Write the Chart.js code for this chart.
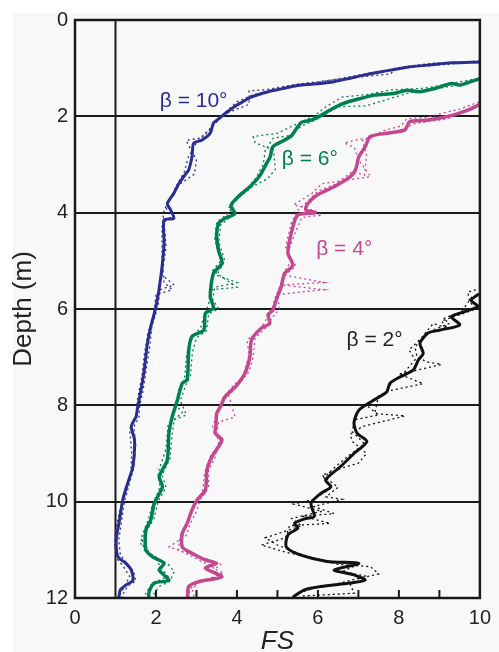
<!DOCTYPE html>
<html>
<head>
<meta charset="utf-8">
<script src="https://cdn.jsdelivr.net/npm/chart.js@4.4.1/dist/chart.umd.min.js"></script>
<style>
html,body{margin:0;padding:0;background:#fff;}
canvas{display:block;}
</style>
</head>
<body>
<canvas id="c" width="499" height="652"></canvas>
<script>
// ---- data: [FS, depth] ----
const fsTicks = [0, 2, 4, 6, 8, 10];
const depthTicks = [0, 2, 4, 6, 8, 10, 12];
const labels = ['β = 10°', 'β = 6°', 'β = 4°', 'β = 2°'];
const labelAnchors = [[2.93, 1.69], [5.8, 2.89], [6.65, 4.75], [7.4, 6.64]];

const beta10 = [[10.0,0.87],[9.3,0.89],[8.8,0.93],[8.2,0.98],[7.6,1.07],[7.1,1.15],[6.8,1.21],[6.4,1.28],[5.9,1.33],[5.5,1.36],[5.1,1.43],[4.77,1.49],[4.35,1.6],[4.1,1.72],[3.9,1.82],[3.71,1.94],[3.55,2.05],[3.42,2.14],[3.34,2.35],[3.14,2.49],[2.93,2.56],[2.89,2.84],[2.81,3.11],[2.75,3.18],[2.57,3.39],[2.44,3.6],[2.28,3.81],[2.36,3.94],[2.44,4.12],[2.2,4.15],[2.2,4.64],[2.12,5.33],[2.0,5.95],[1.87,6.37],[1.79,6.71],[1.71,7.27],[1.63,7.68],[1.55,8.03],[1.51,8.23],[1.39,8.44],[1.47,8.72],[1.43,9.27],[1.30,9.62],[1.18,9.96],[1.10,10.38],[1.02,10.79],[1.06,11.14],[1.26,11.28],[1.39,11.42],[1.43,11.63],[1.26,11.73],[1.12,11.83],[1.08,12.0]];
const beta10DotA = [[10,0.85],[8.8,0.9],[7.9,1.0],[7.8,1.12],[6.8,1.2],[5.5,1.33],[4.7,1.45],[4.3,1.47],[4.3,1.75],[3.7,1.95],[3.4,2.2],[3.1,2.45],[2.75,2.5],[2.8,2.6],[3.0,2.9],[2.95,3.2],[2.6,3.4],[2.4,3.65],[2.25,3.9],[2.35,4.1],[2.2,4.2],[2.25,4.7],[2.15,5.3],[2.45,5.5],[2.1,5.6],[2.05,5.95],[1.9,6.35],[1.85,6.75],[1.75,7.3],[1.68,7.7],[1.6,8.0],[1.58,8.25],[1.45,8.45],[1.5,8.8],[1.45,9.3],[1.35,9.6],[1.22,10.0],[1.15,10.4],[1.08,10.8],[1.12,11.1],[1.3,11.3],[1.45,11.45],[1.5,11.65],[1.3,11.75],[1.2,11.9],[1.15,12]];
const beta10DotB = [[9.5,0.9],[8,1.0],[7.3,1.1],[6.3,1.25],[5.2,1.42],[4.4,1.55],[4.0,1.7],[3.6,2.0],[3.3,2.3],[3.0,2.55],[2.8,2.85],[2.7,3.15],[2.5,3.45],[2.35,3.7],[2.2,3.95],[2.15,4.3],[2.15,4.9],[2.2,5.45],[2.4,5.6],[2.0,5.7],[1.95,6.1],[1.8,6.5],[1.72,6.9],[1.65,7.4],[1.55,7.85],[1.5,8.2],[1.35,8.5],[1.4,9.0],[1.38,9.4],[1.25,9.8],[1.1,10.2],[1.0,10.6],[0.98,10.9],[1.05,11.2],[1.2,11.35],[1.35,11.55],[1.2,11.8],[1.05,12]];

const beta6 = [[10.0,1.22],[9.7,1.30],[9.5,1.35],[9.3,1.32],[8.9,1.42],[8.5,1.49],[8.2,1.46],[7.9,1.52],[7.4,1.56],[7.0,1.64],[6.6,1.74],[6.3,1.87],[6.1,1.97],[5.83,2.08],[5.6,2.12],[5.45,2.28],[5.35,2.40],[5.18,2.49],[4.89,2.63],[4.82,2.84],[4.73,2.98],[4.55,3.25],[4.32,3.46],[4.03,3.67],[3.85,3.85],[3.95,4.02],[3.7,4.12],[3.55,4.22],[3.5,4.5],[3.55,4.8],[3.63,5.05],[3.42,5.26],[3.34,5.74],[3.42,5.98],[3.22,6.09],[3.18,6.44],[2.89,6.57],[2.81,6.85],[2.77,7.47],[2.65,7.54],[2.53,7.89],[2.40,8.24],[2.32,8.58],[2.28,9.13],[2.08,9.48],[2.16,9.69],[1.96,10.03],[1.87,10.38],[1.75,10.59],[1.75,11.0],[1.91,11.14],[2.20,11.28],[2.08,11.42],[2.32,11.63],[1.96,11.69],[1.83,11.87],[1.82,12.0]];
const beta6DotA = [[10.05,1.2],[9.4,1.3],[8.6,1.42],[7.8,1.45],[7.2,1.55],[6.6,1.6],[6.2,1.8],[5.9,2.0],[5.5,2.15],[5.0,2.35],[4.4,2.42],[4.45,2.55],[4.9,2.7],[4.95,3.1],[4.75,3.3],[4.4,3.45],[4.1,3.65],[3.8,3.9],[3.9,4.05],[3.6,4.25],[3.55,4.6],[3.7,5.0],[3.5,5.3],[4.0,5.45],[3.45,5.55],[3.4,5.8],[3.55,6.0],[3.3,6.1],[3.25,6.45],[3.0,6.6],[2.9,6.9],[2.85,7.4],[2.75,7.55],[2.6,7.9],[2.75,8.2],[2.45,8.3],[2.4,8.6],[2.35,9.1],[2.15,9.45],[2.25,9.7],[2.05,10.0],[1.95,10.35],[1.6,10.85],[1.9,11.1],[2.3,11.3],[2.45,11.45],[2.35,11.65],[2.1,11.75],[1.95,11.9],[2.0,12]];
const beta6DotB = [[9.7,1.33],[9.1,1.4],[8.3,1.5],[7.2,1.78],[6.5,1.8],[6.0,2.05],[5.6,2.2],[5.3,2.4],[4.9,2.45],[4.7,2.7],[4.65,3.0],[4.45,3.3],[4.2,3.55],[3.95,3.75],[3.8,4.0],[3.5,4.2],[3.45,4.55],[3.6,5.0],[3.4,5.2],[4.0,5.55],[3.35,5.6],[3.3,5.9],[3.2,6.1],[3.1,6.4],[2.85,6.6],[2.75,7.0],[2.7,7.5],[2.55,7.7],[2.5,8.0],[2.65,8.15],[2.3,8.4],[2.25,8.9],[2.05,9.4],[2.1,9.7],[1.9,10.1],[1.8,10.4],[1.65,10.7],[1.7,11.0],[2.0,11.2],[2.15,11.4],[2.3,11.55],[1.9,11.7],[1.75,11.9],[1.7,12]];

const beta4 = [[9.98,1.76],[9.70,1.87],[9.17,2.01],[8.68,2.08],[8.27,2.11],[8.15,2.28],[7.70,2.35],[7.29,2.42],[7.17,2.63],[7.01,2.84],[6.93,3.11],[6.80,3.25],[6.40,3.46],[5.99,3.63],[5.75,3.81],[5.70,3.94],[5.93,4.0],[5.50,4.05],[5.34,4.43],[5.26,4.84],[5.38,5.09],[5.18,5.26],[5.09,5.54],[4.97,5.81],[4.89,6.02],[4.77,6.12],[4.81,6.30],[4.60,6.40],[4.36,6.64],[4.32,6.99],[4.20,7.33],[4.0,7.58],[3.71,7.82],[3.59,8.03],[3.50,8.17],[3.48,8.44],[3.46,8.58],[3.63,8.72],[3.38,9.07],[3.26,9.34],[3.22,9.76],[3.02,9.96],[2.89,10.17],[2.77,10.45],[2.65,10.66],[2.65,10.94],[2.89,11.07],[3.22,11.21],[3.50,11.28],[3.22,11.38],[3.63,11.56],[3.06,11.66],[2.81,11.76],[2.78,12.0]];
const beta4DotA = [[9.98,1.7],[9.5,1.85],[9.0,1.95],[8.7,2.02],[8.2,2.05],[8.05,2.2],[7.6,2.3],[7.3,2.45],[7.0,2.48],[6.65,2.55],[6.9,2.65],[7.0,2.9],[7.3,3.25],[6.9,3.3],[6.5,3.35],[6.1,3.4],[5.85,3.6],[5.4,3.84],[5.9,3.95],[6.1,4.05],[5.6,4.1],[5.4,4.5],[5.25,4.85],[5.45,5.1],[5.2,5.3],[6.15,5.45],[5.1,5.5],[6.15,5.6],[5.0,5.7],[5.05,6.0],[4.9,6.15],[4.7,6.4],[4.45,6.6],[4.4,7.0],[4.3,7.3],[4.05,7.55],[3.8,7.8],[3.95,8.24],[3.55,8.35],[3.5,8.6],[3.55,8.8],[3.45,9.1],[3.3,9.35],[3.3,9.7],[3.1,9.95],[3.0,10.2],[2.85,10.45],[2.75,10.7],[2.32,10.94],[2.9,11.1],[3.3,11.2],[3.6,11.3],[3.45,11.4],[3.67,11.48],[3.3,11.6],[3.0,11.7],[2.9,11.85],[2.95,12]];
const beta4DotB = [[9.6,1.9],[9.2,2.05],[8.4,2.15],[8.0,2.3],[7.5,2.38],[7.1,2.5],[7.2,2.8],[7.15,3.22],[6.85,3.15],[6.4,3.42],[6.0,3.55],[5.7,3.8],[5.5,3.95],[5.35,4.2],[5.2,4.7],[5.35,5.0],[5.15,5.25],[5.1,5.45],[4.95,5.75],[4.85,6.05],[4.55,6.45],[4.25,6.65],[4.3,6.95],[4.15,7.4],[3.9,7.6],[3.65,7.85],[3.55,8.1],[3.4,8.45],[3.6,8.75],[3.35,9.05],[3.2,9.4],[3.15,9.8],[2.95,10.1],[2.8,10.4],[2.6,10.7],[2.55,11.0],[2.8,11.1],[3.15,11.25],[3.4,11.35],[3.55,11.55],[3.1,11.65],[2.85,11.8],[2.8,12]];

const beta2 = [[9.95,5.70],[9.78,5.82],[9.95,5.95],[9.49,6.09],[9.29,6.16],[9.5,6.33],[9.0,6.44],[8.72,6.50],[8.52,6.71],[8.60,6.92],[8.48,7.06],[8.35,7.27],[8.03,7.41],[7.78,7.54],[7.70,7.72],[7.38,7.89],[7.01,8.10],[6.89,8.37],[6.97,8.58],[7.21,8.75],[6.89,9.0],[6.56,9.27],[6.19,9.55],[6.32,9.69],[6.07,9.83],[5.83,10.03],[5.91,10.31],[5.70,10.35],[5.42,10.45],[5.50,10.55],[5.26,10.69],[5.22,10.94],[5.58,11.11],[6.23,11.24],[7.01,11.28],[6.40,11.42],[6.89,11.52],[7.17,11.63],[6.80,11.69],[6.07,11.76],[5.67,11.83],[5.40,11.97]];
const beta2DotA = [[9.9,5.6],[9.7,5.65],[9.75,5.85],[9.9,6.0],[9.4,6.15],[9.05,6.25],[9.2,6.4],[8.85,6.3],[8.6,6.55],[8.4,6.8],[8.45,7.0],[8.7,7.1],[9.05,7.15],[8.3,7.3],[8.0,7.35],[8.6,7.55],[7.75,7.7],[7.5,7.8],[7.4,8.17],[8.15,8.22],[7.1,8.44],[6.8,8.6],[6.85,8.75],[7.2,9.0],[7.0,9.2],[6.6,9.3],[6.1,9.45],[6.5,9.7],[6.2,9.9],[6.6,9.95],[5.9,10.1],[6.4,10.25],[5.6,10.3],[6.3,10.45],[5.3,10.5],[5.2,10.75],[4.6,10.9],[5.2,11.05],[5.8,11.15],[6.5,11.3],[7.3,11.35],[7.5,11.5],[7.0,11.6],[6.8,11.73],[6.9,11.9],[5.6,11.96]];
const beta2DotB = [[9.8,5.75],[9.55,6.05],[9.1,6.2],[9.25,6.3],[8.8,6.45],[8.5,6.65],[8.25,6.85],[8.4,7.05],[8.15,7.3],[7.85,7.5],[7.65,7.75],[7.2,8.0],[7.5,8.2],[6.9,8.3],[6.85,8.55],[7.15,8.8],[6.75,9.05],[6.4,9.3],[6.15,9.5],[6.35,9.7],[5.9,9.95],[5.4,10.05],[6.1,10.2],[5.35,10.35],[5.6,10.5],[4.7,10.75],[5.0,10.9],[5.5,11.07],[6.2,11.25],[7.0,11.3],[6.6,11.45],[7.2,11.55],[6.5,11.7],[5.9,11.8],[5.5,11.9],[5.4,12]];

const colors = ['#2b2e8f', '#00804f', '#c4488f', '#111111'];

// ---- build datasets ----
const toPts = arr => arr.map(p => ({x: p[0], y: p[1]}));
const series = [
  [beta10, beta10DotA, beta10DotB],
  [beta6, beta6DotA, beta6DotB],
  [beta4, beta4DotA, beta4DotB],
  [beta2, beta2DotA, beta2DotB]
];
const solidWidths = [3, 3.5, 3.5, 3];
const datasets = [];
series.forEach((s, i) => {
  [s[1], s[2]].forEach(d => datasets.push({
    data: toPts(d), showLine: true, borderColor: colors[i], borderWidth: 1.3,
    borderDash: [2, 3], pointRadius: 0, tension: 0, fill: false
  }));
});
series.forEach((s, i) => {
  datasets.push({
    data: toPts(s[0]), showLine: true, borderColor: colors[i], borderWidth: solidWidths[i],
    pointRadius: 0, tension: 0.25, fill: false, borderCapStyle: 'round', borderJoinStyle: 'round'
  });
});

const FONT = '"Liberation Sans", Arial, sans-serif';

const decor = {
  id: 'decor',
  beforeDraw(chart) {
    const c = chart.ctx;
    c.save();
    c.fillStyle = '#ffffff';
    c.fillRect(0, 0, chart.width, chart.height);
    c.fillStyle = '#f8f8f8';
    c.fillRect(13, 13, chart.width - 13, chart.height - 13);
    c.restore();
  },
  beforeDatasetsDraw(chart) {
    const c = chart.ctx, xs = chart.scales.x, a = chart.chartArea;
    c.save();
    c.strokeStyle = '#1a1a1a';
    c.lineWidth = 2;
    const x1 = xs.getPixelForValue(1);
    c.beginPath(); c.moveTo(x1, a.top); c.lineTo(x1, a.bottom); c.stroke();
    for (let v = 2; v <= 9; v++) {
      const px = xs.getPixelForValue(v);
      c.beginPath(); c.moveTo(px, a.bottom); c.lineTo(px, a.bottom - 8); c.stroke();
    }
    c.restore();
  },
  afterDatasetsDraw(chart) {
    const c = chart.ctx, xs = chart.scales.x, ys = chart.scales.y, a = chart.chartArea;
    c.save();
    c.strokeStyle = '#1a1a1a';
    c.lineWidth = 2.5;
    c.strokeRect(a.left, a.top, a.right - a.left, a.bottom - a.top);
    c.font = '21px ' + FONT;
    c.textAlign = 'center';
    c.textBaseline = 'middle';
    labels.forEach((t, i) => {
      c.fillStyle = i === 3 ? '#222' : colors[i];
      c.fillText(t, xs.getPixelForValue(labelAnchors[i][0]), ys.getPixelForValue(labelAnchors[i][1]));
    });
    c.restore();
  }
};

new Chart(document.getElementById('c'), {
  type: 'scatter',
  data: { datasets },
  options: {
    responsive: false,
    animation: false,
    devicePixelRatio: 1,
    layout: { padding: { top: 20, right: 15, left: 0, bottom: 0 } },
    plugins: { legend: { display: false }, tooltip: { enabled: false } },
    scales: {
      x: {
        type: 'linear', min: 0, max: 10,
        afterFit: s => { s.height = 54; },
        afterBuildTicks: s => { s.ticks = fsTicks.map(v => ({value: v})); },
        grid: { display: false, drawTicks: false },
        border: { display: false },
        ticks: { color: '#222', font: { size: 20, family: FONT }, padding: 8, maxRotation: 0, autoSkip: false },
        title: { display: true, text: 'FS', color: '#222', font: { size: 26, family: FONT, style: 'italic', lineHeight: 1 }, padding: { top: 0, bottom: -3 } }
      },
      y: {
        type: 'linear', min: 0, max: 12, reverse: true,
        afterFit: s => { s.width = 75; },
        afterBuildTicks: s => { s.ticks = depthTicks.map(v => ({value: v})); },
        grid: { color: '#1a1a1a', lineWidth: 2, drawTicks: false },
        border: { display: false },
        ticks: { color: '#222', font: { size: 20, family: FONT }, padding: 7, autoSkip: false },
        title: { display: true, text: 'Depth (m)', color: '#222', font: { size: 26, family: FONT, lineHeight: 1 }, padding: { top: 11, bottom: 0 } }
      }
    }
  },
  plugins: [decor]
});
</script>
</body>
</html>
